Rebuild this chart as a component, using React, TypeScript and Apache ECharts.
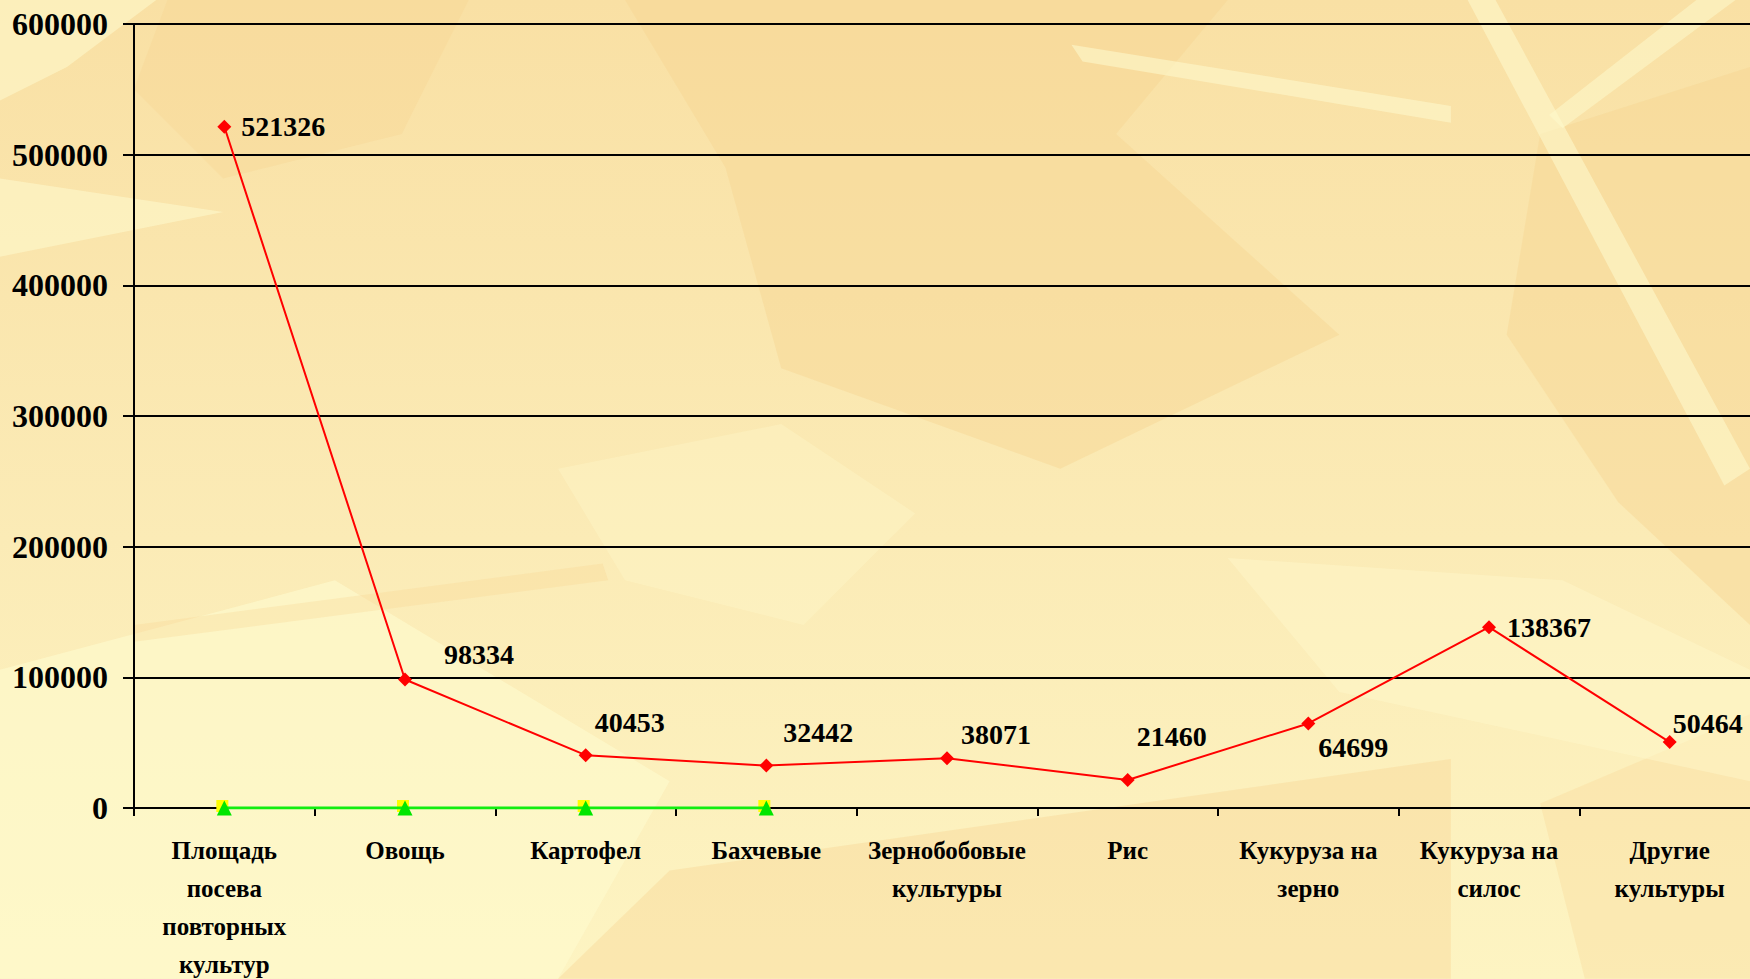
import React, { useEffect, useRef } from "react";
import * as echarts from "echarts";

const categories = [
  "Площадь\nпосева\nповторных\nкультур",
  "Овощь",
  "Картофел",
  "Бахчевые",
  "Зернобобовые\nкультуры",
  "Рис",
  "Кукуруза на\nзерно",
  "Кукуруза на\nсилос",
  "Другие\nкультуры",
];
const areaValues = [521326, 98334, 40453, 32442, 38071, 21460, 64699, 138367, 50464];
const yellowValues = [0, 0, 0, 0, null, null, null, null, null];
const greenValues = [0, 0, 0, 0, null, null, null, null, null];
const yTicks = { min: 0, max: 600000, interval: 100000 };

// label offsets (dx to label left edge, dy to label middle) relative to point
const labelOffsets = [
  [17, 0], [39, -25], [9, -33], [17, -33], [14, -24], [9, -43], [10, 24], [18, 0], [3, -19],
];

const FONT = "'Liberation Serif', 'Times New Roman', serif";
const S = 1750 / 1568;
const poly = (pts: number[][], fill: string, opacity: number) => ({
  type: "polygon",
  silent: true,
  z: -10,
  shape: { points: pts.map(([x, y]) => [x * S, y * S]) },
  style: { fill, opacity },
});

export default function App() {
  const ref = useRef<HTMLDivElement>(null);
  useEffect(() => {
    document.body.style.margin = "0";
    const chart = echarts.init(ref.current!, null, { renderer: "svg" });
    const dark = "#f7d593";
    const light = "#fef9cc";
    chart.setOption({
      animation: false,
      backgroundColor: {
        type: "linear", x: 0, y: 0, x2: 0, y2: 1,
        colorStops: [
          { offset: 0, color: "#f9e0a4" },
          { offset: 0.55, color: "#fbebb6" },
          { offset: 1, color: "#fdf4c2" },
        ],
      },
      graphic: [
        poly([[0, 0], [140, 0], [60, 60], [0, 90]], light, 0.6),
        poly([[560, 0], [1100, 0], [1000, 120], [1200, 300], [950, 420], [700, 330], [650, 150]], dark, 0.45),
        poly([[150, 0], [420, 0], [360, 120], [200, 160], [120, 80]], dark, 0.35),
        poly([[1380, 120], [1568, 60], [1568, 560], [1450, 450], [1350, 300]], dark, 0.45),
        poly([[600, 780], [1300, 680], [1300, 877], [500, 877]], dark, 0.4),
        poly([[1380, 720], [1568, 640], [1568, 877], [1420, 877]], dark, 0.3),
        poly([[0, 600], [300, 520], [600, 700], [500, 877], [0, 877]], light, 0.7),
        poly([[0, 160], [200, 190], [0, 230]], light, 0.6),
        poly([[960, 40], [1300, 95], [1300, 110], [970, 55]], light, 0.6),
        poly([[1315, 0], [1340, 0], [1568, 420], [1545, 435]], light, 0.6),
        poly([[1520, 0], [1555, 0], [1400, 115], [1388, 103]], light, 0.55),
        poly([[1100, 500], [1400, 520], [1568, 600], [1568, 700], [1200, 620]], light, 0.45),
        poly([[500, 420], [700, 380], [820, 460], [720, 560], [560, 520]], light, 0.35),
        poly([[120, 560], [540, 505], [545, 520], [120, 575]], dark, 0.3),
      ],
      grid: {
        left: 134, top: 24, width: 1626, height: 784,
        containLabel: false, outerBoundsMode: "none",
      },
      xAxis: {
        type: "category",
        data: categories,
        boundaryGap: true,
        axisLine: { show: true, lineStyle: { color: "#000", width: 2 } },
        axisTick: { show: true, length: 8, interval: 0, alignWithLabel: false, lineStyle: { color: "#000", width: 2 } },
        axisLabel: {
          interval: 0, margin: 23, color: "#000",
          fontFamily: FONT, fontWeight: "bold", fontSize: 25, lineHeight: 38,
        },
        splitLine: { show: false },
      },
      yAxis: {
        type: "value",
        min: yTicks.min, max: yTicks.max, interval: yTicks.interval,
        axisLine: { show: true, lineStyle: { color: "#000", width: 2 } },
        axisTick: { show: true, length: 11, lineStyle: { color: "#000", width: 2 } },
        axisLabel: {
          margin: 26, color: "#000", fontFamily: FONT, fontWeight: "bold", fontSize: 32,
          formatter: (v: number) => String(v),
        },
        splitLine: { show: true, lineStyle: { color: "#000", width: 2 } },
      },
      series: [
        {
          type: "line",
          data: yellowValues,
          symbol: "rect",
          symbolSize: 12,
          symbolOffset: [-2, -2],
          showAllSymbol: true,
          lineStyle: { color: "#ffff00", width: 0, opacity: 0 },
          itemStyle: { color: "#ffff00" },
          z: 3,
        },
        {
          type: "line",
          data: greenValues,
          symbol: "triangle",
          symbolSize: 15,
          showAllSymbol: true,
          lineStyle: { color: "#11ee11", width: 3 },
          itemStyle: { color: "#00e600" },
          z: 4,
        },
        {
          type: "line",
          data: areaValues.map((v, i) => ({
            value: v,
            label: {
              show: true,
              position: "right",
              distance: 0,
              offset: [labelOffsets[i][0] - 7, labelOffsets[i][1]],
            },
          })),
          symbol: "diamond",
          symbolSize: 14,
          showAllSymbol: true,
          lineStyle: { color: "#ff0000", width: 2 },
          itemStyle: { color: "#ff0000" },
          label: {
            show: true, color: "#000", fontFamily: FONT, fontWeight: "bold", fontSize: 28,
          },
          z: 5,
        },
      ],
    });
    return () => chart.dispose();
  }, []);
  return <div ref={ref} style={{ position: "fixed", left: 0, top: 0, width: 1750, height: 979 }} />;
}
